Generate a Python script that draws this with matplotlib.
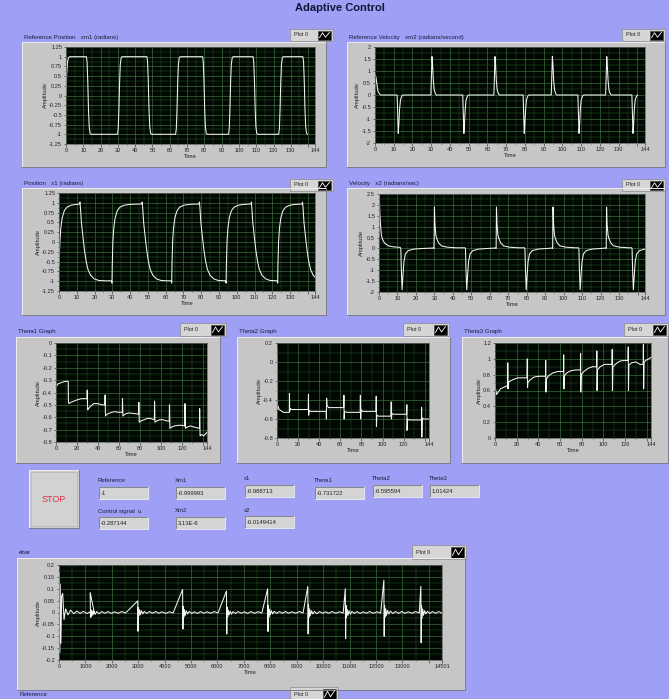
import matplotlib.pyplot as plt
import numpy as np
from matplotlib.patches import Rectangle
from matplotlib.ticker import MultipleLocator

W, H = 669, 699
plt.rcParams['font.family'] = ['Liberation Sans', 'DejaVu Sans']

PANEL = '#9f9ff6'
FRAME = '#c6c6c6'
TRACE = '#f4f4f4'

# switching instants of the reference square wave (s)
rise_t = [0.0, 29.8, 63.4, 94.0, 123.0]
fall_t = [11.8, 46.8, 79.0, 108.2, 137.0]

# reference position xm1 around each edge
xm1_first_dt = [0, 0.4, 0.9, 1.5, 2.2]
xm1_first_v = [0.0, 0.55, 0.88, 0.98, 1.0]
xm1_up_dt = [0, 0.4, 0.8, 1.2, 1.6, 2.1, 2.6]
xm1_up_v = [-1.0, -0.85, -0.35, 0.35, 0.8, 0.97, 1.0]
xm1_down_dt = [0, 0.4, 0.8, 1.2, 1.6, 2.1, 2.6]
xm1_down_v = [1.0, 0.85, 0.35, -0.35, -0.8, -0.97, -1.0]

# reference velocity xm2
xm2_first_dt = [0, 0.5, 1.0, 1.6, 2.5, 3.2]
xm2_first_v = [0.85, 0.75, 0.45, 0.15, 0.03, 0.0]
xm2_up_dt = [0, 0.3, 0.6, 0.9, 1.3, 1.8, 2.5, 3.0]
xm2_up_v = [0.0, 0.8, 1.6, 1.25, 0.6, 0.2, 0.04, 0.0]
xm2_down_dt = [0, 0.3, 0.6, 0.9, 1.3, 1.8, 2.5, 3.0]
xm2_down_v = [0.0, -0.8, -1.6, -1.25, -0.6, -0.2, -0.04, 0.0]

# plant position x1
x1_first_dt = [0, 0.5, 1.0, 1.8, 3.0, 4.5, 7.0, 10.0]
x1_first_v = [-0.6, 0.0, 0.35, 0.62, 0.8, 0.89, 0.94, 0.96]
x1_up_dt = [-0.3, 0, 0.15, 0.5, 1.0, 1.8, 3.0, 4.5, 7.0, 10.0]
x1_up_v = [-0.99, -1.05, -0.6, 0.0, 0.35, 0.62, 0.8, 0.89, 0.94, 0.96]
x1_down_dt = [-0.3, 0, 0.3, 0.8, 1.5, 2.5, 3.5, 4.5, 6.0, 8.0, 10.5, 14.0]
x1_down_v = [0.97, 1.02, 0.85, 0.5, 0.2, -0.2, -0.5, -0.7, -0.85, -0.94, -0.98, -0.99]

# plant velocity x2
x2_first_dt = [0, 0.15, 0.4, 0.8, 1.3, 2.0, 3.0, 5.0, 8.0, 11.5]
x2_first_v = [0.5, 2.6, 1.7, 1.1, 0.6, 0.4, 0.25, 0.12, 0.07, 0.05]
x2_up_dt = [-0.2, 0, 0.2, 0.5, 1.0, 1.5, 2.5, 4.0, 7.0, 12.0]
x2_up_v = [0.02, 0.0, 1.9, 1.1, 0.6, 0.45, 0.25, 0.12, 0.06, 0.03]
x2_down_dt = [-0.2, 0, 0.3, 0.7, 1.2, 1.7, 2.5, 4.0, 7.0, 12.0]
x2_down_v = [0.03, 0.0, -1.0, -1.9, -1.2, -0.6, -0.25, -0.1, -0.03, 0.0]

# adaptive gains
th1_t = [0, 2, 5, 9, 11.7,
         11.8, 12.3, 14, 17, 20, 24, 29.6,
         29.8, 30.2, 31, 33, 36, 40, 44, 46.6,
         46.8, 47.2, 48, 50, 53, 56, 60, 63.2,
         63.4, 63.8, 65, 67, 70, 74, 78.8,
         79.0, 79.4, 81, 84, 87, 90, 93.8,
         94.0, 94.4, 96, 99, 102, 106, 108.0,
         108.2, 108.6, 110, 113, 117, 120, 122.8,
         123.0, 123.4, 125, 128, 132, 136.8,
         137.0, 137.4, 139, 141, 144]
th1_v = [-0.35, -0.33, -0.32, -0.31, -0.31,
         -0.47, -0.49, -0.48, -0.47, -0.46, -0.45, -0.45,
         -0.38, -0.54, -0.53, -0.51, -0.49, -0.49, -0.5, -0.5,
         -0.42, -0.59, -0.58, -0.57, -0.56, -0.555, -0.56, -0.56,
         -0.45, -0.59, -0.58, -0.57, -0.565, -0.57, -0.575,
         -0.48, -0.64, -0.63, -0.62, -0.61, -0.61, -0.62,
         -0.47, -0.64, -0.63, -0.62, -0.62, -0.63, -0.63,
         -0.5, -0.69, -0.68, -0.67, -0.665, -0.665, -0.67,
         -0.49, -0.69, -0.68, -0.67, -0.68, -0.69,
         -0.53, -0.75, -0.74, -0.75, -0.72]

th2_t = [0, 0.3, 0.5, 0.8, 2, 6, 11.7,
         11.8, 12.0, 12.4, 14, 20, 29.6,
         29.8, 30.0, 30.4, 32, 40, 46.6,
         46.8, 47.0, 47.4, 49, 55, 63.2,
         63.4, 63.6, 64.0, 66, 72, 78.8,
         79.0, 79.2, 79.6, 81, 88, 93.8,
         94.0, 94.2, 94.6, 96, 102, 108.0,
         108.2, 108.4, 108.8, 110, 116, 122.8,
         123.0, 123.2, 123.6, 125, 131, 136.8,
         137.0, 137.2, 137.6, 139, 144]
th2_v = [0.15, -0.1, -0.5, -0.46, -0.5, -0.53, -0.53,
         -0.33, -0.52, -0.49, -0.5, -0.5, -0.5,
         -0.34, -0.56, -0.51, -0.52, -0.52, -0.52,
         -0.6, -0.38, -0.46, -0.48, -0.48, -0.48,
         -0.35, -0.6, -0.52, -0.53, -0.53, -0.53,
         -0.35, -0.6, -0.5, -0.52, -0.52, -0.52,
         -0.36, -0.68, -0.56, -0.57, -0.57, -0.57,
         -0.42, -0.6, -0.54, -0.55, -0.55, -0.55,
         -0.45, -0.72, -0.6, -0.61, -0.61, -0.61,
         -0.48, -0.79, -0.59, -0.6, -0.6]

th3_t = [0, 0.2, 0.5, 1.5, 3, 5, 8, 11.6,
         11.8, 12.0, 12.3, 14, 17, 21, 25, 29.6,
         29.8, 30.0, 30.4, 32, 36, 41, 46.6,
         46.8, 47.0, 47.4, 49, 53, 58, 63.2,
         63.4, 63.6, 64.0, 66, 70, 75, 78.8,
         79.0, 79.2, 79.6, 82, 86, 90, 93.8,
         94.0, 94.2, 94.6, 97, 101, 105, 108.0,
         108.2, 108.4, 108.8, 111, 115, 119, 122.8,
         123.0, 123.2, 123.6, 126, 130, 134, 136.8,
         137.0, 137.2, 137.6, 139, 142, 144]
th3_v = [0.95, 0.7, 0.62, 0.55, 0.58, 0.62, 0.64, 0.66,
         0.95, 0.62, 0.7, 0.72, 0.74, 0.76, 0.76, 0.76,
         1.0, 0.64, 0.7, 0.73, 0.77, 0.78, 0.78,
         0.98, 0.58, 0.74, 0.78, 0.82, 0.84, 0.84,
         1.05, 0.62, 0.78, 0.82, 0.85, 0.86, 0.86,
         1.07, 0.58, 0.8, 0.84, 0.88, 0.9, 0.9,
         1.1, 0.6, 0.86, 0.9, 0.93, 0.93, 0.93,
         1.12, 0.6, 0.9, 0.93, 0.97, 0.98, 0.98,
         1.15, 0.6, 0.92, 0.95, 0.96, 0.93, 0.93,
         1.18, 0.62, 0.95, 0.98, 1.0, 1.02]

# tracking error ebar (sample index), sampled on a common grid after each switch
ebar_events = [0, 1180, 2980, 4680, 6340, 7900, 9420, 10840, 12300, 13700]
ebar_dt = [0, 12, 25, 45, 70, 100, 140, 190, 250, 340, 440, 560, 680, 800, 920, 1060, 1200, 1340]
ebar_vals = [
    [0.0, 0.17, -0.17, 0.12, -0.13, 0.07, 0.08, -0.03, 0.015, -0.01, 0.01, -0.005, 0.006, -0.004, 0.005, -0.004, 0.004, -0.003],
    [0.084, -0.02, 0.012, -0.018, 0.008, -0.012, 0.006, -0.008, 0.004, -0.005, 0.004, -0.003, 0.004, -0.004, 0.003, -0.003, 0.004, -0.002],
    [0.049, -0.079, 0.02, -0.015, 0.012, -0.01, 0.008, -0.006, 0.005, -0.004, 0.004, -0.003, 0.004, -0.003, 0.003, -0.004, 0.003, -0.002],
    [0.097, -0.07, 0.025, -0.02, 0.012, -0.012, 0.007, -0.006, 0.005, -0.004, 0.003, -0.004, 0.004, -0.003, 0.003, -0.003, 0.004, -0.002],
    [0.09, -0.091, 0.022, -0.018, 0.01, -0.01, 0.006, -0.007, 0.004, -0.004, 0.004, -0.003, 0.003, -0.004, 0.004, -0.003, 0.003, -0.002],
    [0.1, -0.08, 0.03, -0.02, 0.014, -0.01, 0.008, -0.006, 0.005, -0.004, 0.004, -0.003, 0.004, -0.003, 0.003, -0.003, 0.004, -0.002],
    [0.11, -0.09, 0.035, -0.02, 0.015, -0.012, 0.008, -0.006, 0.005, -0.005, 0.004, -0.003, 0.003, -0.003, 0.004, -0.003, 0.003, -0.002],
    [0.1, -0.11, 0.03, -0.022, 0.014, -0.012, 0.008, -0.007, 0.005, -0.004, 0.004, -0.004, 0.003, -0.003, 0.004, -0.003, 0.003, -0.002],
    [0.136, -0.1, 0.03, -0.02, 0.016, -0.012, 0.009, -0.006, 0.006, -0.004, 0.004, -0.003, 0.004, -0.003, 0.003, -0.003, 0.004, -0.002],
    [0.11, -0.128, 0.03, -0.025, 0.015, -0.012, 0.008, -0.006, 0.005, -0.004, 0.004, -0.003, 0.004, -0.003, 0.003, -0.003, 0.003, -0.002],
]

# front panel indicators
indicator_names = ['Reference', 'Xm1', 'x1', 'Theta1', 'Theta2', 'Theta3',
                   'Control signal  u', 'Xm2', 'x2']
indicator_values = ['-1', '-0.999993', '-0.988713', '-0.731722', '-0.595594', '1.01424',
                    '-0.287144', '3.13E-6', '-0.0149414']
indicator_boxes = [(99, 487), (176, 487), (245, 485), (315, 487), (373, 485), (430, 485),
                   (99, 517), (176, 517), (245, 516)]


def assemble(first_dt, first_v, up_dt, up_v, down_dt, down_v):
    t = [rise_t[0] + d for d in first_dt]
    v = list(first_v)
    for k in range(len(fall_t)):
        t += [fall_t[k] + d for d in down_dt]
        v += down_v
        if k + 1 < len(rise_t):
            t += [rise_t[k + 1] + d for d in up_dt]
            v += up_v
    return t, v


def px_axes(x0, y0, x1, y1):
    return fig.add_axes([x0 / W, 1 - y1 / H, (x1 - x0) / W, (y1 - y0) / H])


def frame(x0, y0, x1, y1, fc=FRAME):
    bg.add_patch(Rectangle((x0, y0), x1 - x0, y1 - y0, fc=fc, ec='none'))
    bg.plot([x0, x0, x1], [y1, y0, y0], color='#eeeeee', lw=0.7)
    bg.plot([x1, x1, x0], [y0, y1, y1], color='#7c7c8c', lw=0.7)


def plot_legend(x0, y0, x1, y1):
    bg.add_patch(Rectangle((x0, y0), x1 - x0, y1 - y0, fc='#d6d6d6', ec='#8a8a8a', lw=0.5))
    bg.text(x0 + 4, (y0 + y1) / 2, 'Plot 0', fontsize=4.0, va='center', ha='left', color='#222')
    ix = x1 - 15
    bg.add_patch(Rectangle((ix, y0 + 1.5), 13, y1 - y0 - 3, fc='black', ec='#444', lw=0.4))
    h = y1 - y0 - 3
    bg.plot([ix + 1.5, ix + 4.5, ix + 7.5, ix + 11.5],
            [y0 + 1.5 + 0.8 * h, y0 + 1.5 + 0.25 * h, y0 + 1.5 + 0.75 * h, y0 + 1.5 + 0.2 * h],
            color='white', lw=0.6)


def graph(box, fbox, title, lbox, t, v, ylim, ystep, xticks, xlabels, xminor):
    frame(*fbox)
    bg.text(fbox[0] + 2, fbox[1] - 5, title, fontsize=4.4, va='center', ha='left', color='#1c1c3c')
    plot_legend(*lbox)
    ax = px_axes(*box)
    ax.set_facecolor('#010801')
    ax.plot(t, v, color=TRACE, lw=0.75)
    ax.set_xlim(xticks[0], xticks[-1])
    ax.set_ylim(*ylim)
    ax.set_xticks(xticks)
    ax.set_xticklabels(xlabels)
    ax.xaxis.set_minor_locator(MultipleLocator(xminor))
    yt = np.round(np.arange(ylim[0], ylim[1] + ystep / 2, ystep), 4) + 0.0
    ax.set_yticks(yt)
    ax.set_yticklabels(['%g' % (y + 0.0) for y in yt])
    ax.yaxis.set_minor_locator(MultipleLocator(ystep / 2))
    ax.grid(which='major', color='#417541', lw=0.45)
    ax.grid(which='minor', color='#285528', lw=0.35)
    ax.tick_params(which='both', direction='out', length=1.8, width=0.4, pad=1,
                   labelsize=4.1, colors='#222222')
    ax.tick_params(which='minor', length=1.0)
    for s in ax.spines.values():
        s.set_color('#5a5a5a')
        s.set_linewidth(0.5)
    ax.set_xlabel('Time', fontsize=4.2, labelpad=1, color='#222')
    ax.set_ylabel('Amplitude', fontsize=4.2, labelpad=1, color='#222')
    return ax


fig = plt.figure(figsize=(W / 100, H / 100), dpi=100)
fig.patch.set_facecolor(PANEL)
bg = fig.add_axes([0, 0, 1, 1])
bg.set_xlim(0, W)
bg.set_ylim(H, 0)
bg.axis('off')

bg.text(340, 8, 'Adaptive Control', fontsize=8, fontweight='bold', ha='center', va='center',
        color='#141438')

xt144 = list(range(0, 141, 10)) + [144]
xl144 = [str(x) for x in range(0, 131, 10)] + ['', '144']
xt144b = list(range(0, 141, 20)) + [144]
xl144b = [str(x) for x in range(0, 121, 20)] + ['', '144']

t, v = assemble(xm1_first_dt, xm1_first_v, xm1_up_dt, xm1_up_v, xm1_down_dt, xm1_down_v)
graph((66, 47, 315, 144), (22, 42, 326, 167), 'Reference Position   xm1 (radians)',
      (290, 29, 333, 41), t, v, (-1.25, 1.25), 0.25, xt144, xl144, 5)

t, v = assemble(xm2_first_dt, xm2_first_v, xm2_up_dt, xm2_up_v, xm2_down_dt, xm2_down_v)
graph((375, 47, 645, 143), (347, 42, 665, 167), 'Reference Velocity   xm2 (radians/second)',
      (622, 29, 665, 41), t, v, (-2, 2), 0.5, xt144, xl144, 5)

t, v = assemble(x1_first_dt, x1_first_v, x1_up_dt, x1_up_v, x1_down_dt, x1_down_v)
graph((59, 193, 315, 291), (22, 188, 326, 315), 'Position   x1 (radians)',
      (290, 179, 333, 191), t, v, (-1.25, 1.25), 0.25, xt144, xl144, 5)

t, v = assemble(x2_first_dt, x2_first_v, x2_up_dt, x2_up_v, x2_down_dt, x2_down_v)
graph((379, 194, 645, 292), (347, 188, 665, 315), 'Velocity   x2 (radians/sec)',
      (622, 179, 665, 191), t, v, (-2, 2.5), 0.5, xt144, xl144, 5)

graph((56, 343, 207, 442), (16, 337, 220, 463), 'Theta1 Graph',
      (180, 323, 226, 336), th1_t, th1_v, (-0.8, 0), 0.1, xt144b, xl144b, 10)
graph((277, 343, 429, 438), (237, 337, 450, 463), 'Theta2 Graph',
      (403, 323, 449, 336), th2_t, th2_v, (-0.8, 0.2), 0.2, xt144b, xl144b, 10)
graph((495, 343, 651, 438), (462, 337, 668, 463), 'Theta3 Graph',
      (624, 323, 668, 336), th3_t, th3_v, (0, 1.2), 0.2, xt144b, xl144b, 10)

# ebar trace from the event grid
et, ev = [], []
for e, vals in zip(ebar_events, ebar_vals):
    et += [e + d for d in ebar_dt]
    ev += vals
xt_e = list(range(0, 14001, 1000)) + [14501]
xl_e = [str(x) for x in range(0, 13001, 1000)] + ['', '14501']
graph((59, 565, 442, 660), (17, 558, 465, 690), 'ebar',
      (412, 545, 466, 559), et, ev, (-0.2, 0.2), 0.05, xt_e, xl_e, 500)

# next graph, cut off by the window edge
bg.text(20, 694, 'Reference', fontsize=4.4, va='center', ha='left', color='#1c1c3c')
plot_legend(290, 687, 338, 701)

# STOP button
frame(29, 470, 79, 528, fc='#cdcdcd')
bg.add_patch(Rectangle((31, 472), 46, 54, fc='#d2d2d2', ec='#b0b0b0', lw=0.4))
bg.text(54, 500, 'STOP', fontsize=6.5, color='#e03040', ha='center', va='center')

# numeric indicators
for name, val, (x, y) in zip(indicator_names, indicator_values, indicator_boxes):
    bg.text(x - 1, y - 6, name, fontsize=4.3, ha='left', va='center', color='#1c1c3c')
    bg.add_patch(Rectangle((x, y), 49, 12, fc='#d4d4d4', ec='none'))
    bg.plot([x, x, x + 49], [y + 12, y, y], color='#7a7a7a', lw=0.6)
    bg.plot([x + 49, x + 49, x], [y, y + 12, y + 12], color='#f2f2f2', lw=0.6)
    bg.text(x + 2, y + 6.5, val, fontsize=4.2, ha='left', va='center', color='#222')

fig.savefig('out.png', dpi=100, facecolor=PANEL)
